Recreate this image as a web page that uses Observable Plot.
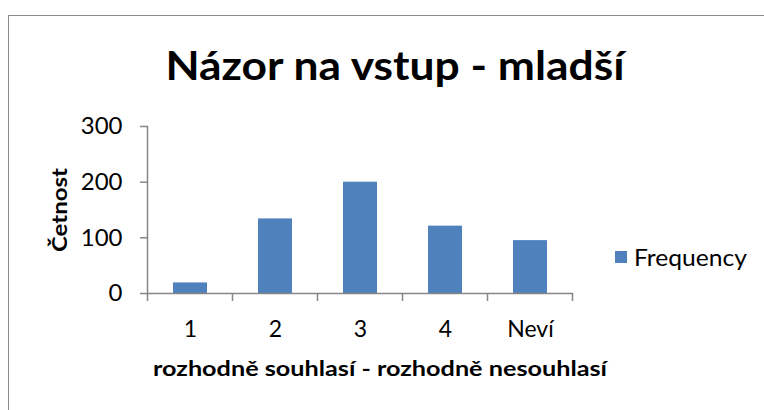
<!DOCTYPE html>
<html><head><meta charset="utf-8">
<script src="https://cdn.jsdelivr.net/npm/d3@7"></script>
<script src="https://cdn.jsdelivr.net/npm/@observablehq/plot@0.6"></script>
<style>
body{margin:0;background:#fff;font-family:Lato,"Open Sans",sans-serif;}
#wrap{position:relative;width:764px;height:410px;overflow:hidden;background:#fff}
#border{position:absolute;left:8px;top:15px;width:800px;height:450px;border:1.5px solid #8a8a8a;box-sizing:border-box}
#chart{position:absolute;left:0;top:0}
.t{position:absolute;white-space:nowrap;color:#000;line-height:1;transform-origin:center center}
#legsw{position:absolute;left:615px;top:251px;width:12px;height:12px;background:#4F81BD}
</style></head><body>
<div id="wrap">
 <div id="border"></div>
 <div id="chart"></div>
 <div class="t" id="title" style="font-weight:700;font-size:41px">Názor na vstup - mladší</div>
 <div class="t" id="ytitle" style="font-weight:700;font-size:20px">Četnost</div>
 <div class="t" id="xtitle" style="font-weight:700;font-size:21px">rozhodně souhlasí - rozhodně nesouhlasí</div>
 <div id="legsw"></div>
 <div class="t" id="legtext" style="font-size:23px">Frequency</div>
</div>
<script>
const categories = ["1", "2", "3", "4", "Neví"];
const frequency = [19, 134, 200, 121, 95];
const yTicks = [0, 100, 200, 300];
const seriesName = "Frequency";
const titleText = "Názor na vstup - mladší";
const xLabel = "rozhodně souhlasí - rozhodně nesouhlasí";
const yLabel = "Četnost";

const data = categories.map((c, i) => ({cat: c, value: frequency[i]}));
const barColor = "#4F81BD";
const axisColor = "#868686";

const plot = Plot.plot({
  width: 764,
  height: 410,
  marginLeft: 148,
  marginRight: 191,
  marginTop: 126,
  marginBottom: 117,
  style: {fontFamily: "Lato, 'Open Sans', sans-serif", fontSize: "24px", color: "#000", background: "transparent"},
  x: {type: "band", domain: categories, paddingInner: 0.6, paddingOuter: 0.3},
  y: {domain: [0, 300], ticks: yTicks},
  marks: [
    Plot.barY(data, {x: "cat", y: "value", fill: barColor}),
    Plot.ruleY([0], {stroke: axisColor, strokeWidth: 1.5}),
    Plot.axisY({ticks: yTicks, tickSize: 8, tickPadding: 18, label: null, fontSize: 24}),
    Plot.axisX({tickSize: 0, tickPadding: 27, label: null, fontSize: 23})
  ]
});
document.getElementById("chart").appendChild(plot);

// axis colouring and category-boundary ticks from the plot's own scales
const svg = d3.select(plot);
svg.selectAll('g[aria-label="y-axis tick"] path').attr("stroke", axisColor).attr("stroke-width", 1.5);
const xs = plot.scale("x"), ys = plot.scale("y");
const gap = (xs.step - xs.bandwidth) / 2;
const bounds = categories.map(c => xs.apply(c) - gap);
bounds.push(xs.apply(categories[categories.length - 1]) + xs.bandwidth + gap);
const y0 = ys.apply(0), yTop = ys.apply(d3.max(yTicks));
const g = svg.append("g").attr("stroke", axisColor).attr("stroke-width", 1.5);
g.append("line").attr("x1", bounds[0]).attr("x2", bounds[0]).attr("y1", yTop).attr("y2", y0);
bounds.forEach(b => g.append("line").attr("x1", b).attr("x2", b).attr("y1", y0).attr("y2", y0 + 8));

// text placement helpers
function place(id, text, cx, cy, targetW, rotate) {
  const el = document.getElementById(id);
  el.textContent = text;
  const w = el.getBoundingClientRect().width;
  const s = targetW ? targetW / w : 1;
  el.style.left = cx + "px";
  el.style.top = cy + "px";
  el.style.transform = "translate(-50%,-50%)" + (rotate ? " rotate(-90deg)" : "") + " scaleX(" + s + ")";
}
place("title", titleText, 394.5, 64, 459);
place("xtitle", xLabel, 380, 367, 454);
place("ytitle", yLabel, 59, (y0 + yTop) / 2, 84, true);
const lt = document.getElementById("legtext");
lt.textContent = seriesName;
const lw = lt.getBoundingClientRect().width;
lt.style.left = "634px";
lt.style.top = "246px";
lt.style.transformOrigin = "left center";
lt.style.transform = "scaleX(" + (113 / lw) + ")";
document.getElementById("legsw").style.background = barColor;
</script>
</body></html>
